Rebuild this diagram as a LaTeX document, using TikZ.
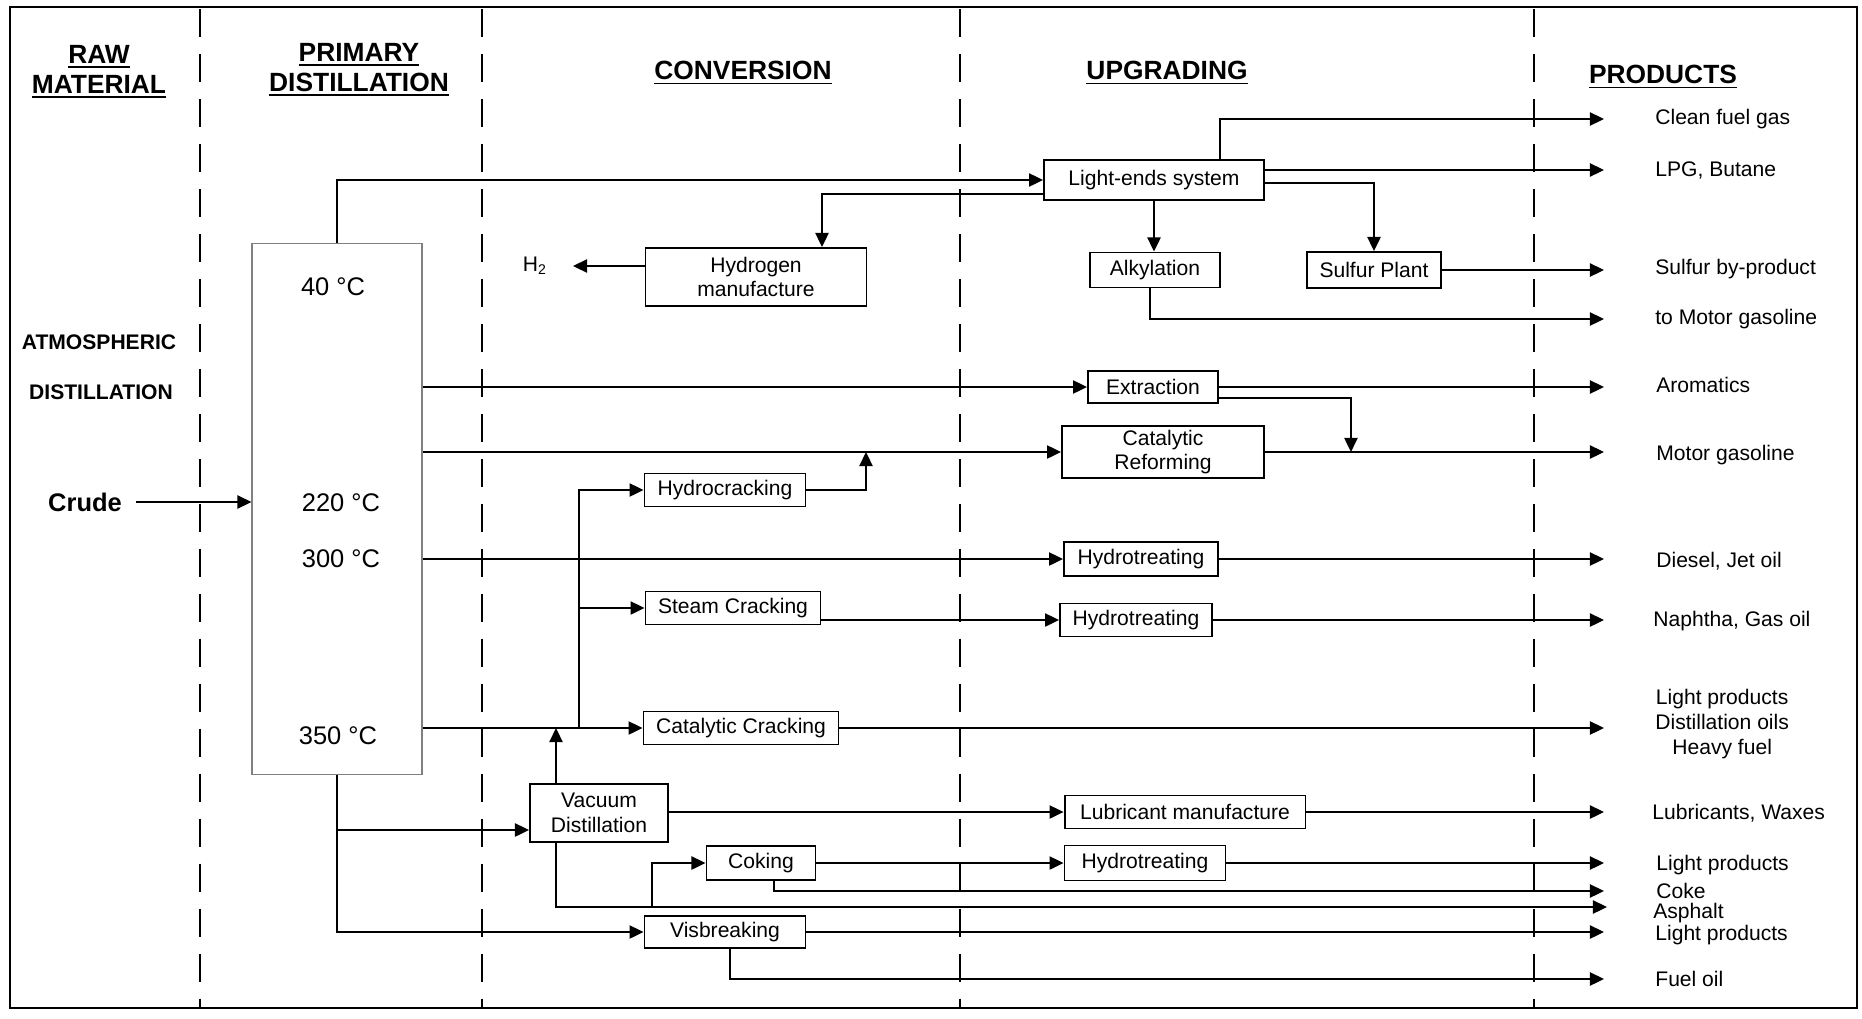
\documentclass[tikz,border=0pt]{standalone}
\usepackage{fontspec}
\setmainfont{Liberation Sans}
\usepackage{xcolor}
\usepackage{tikz}
\usetikzlibrary{arrows.meta}
\usetikzlibrary{calc}
\usetikzlibrary{positioning}
\tikzstyle{process} = [draw, line width=1.1pt, rectangle, minimum height=0.66cm, inner sep=0pt, align=center, font=\fontsize{12}{14}\selectfont]
\tikzstyle{arrowline} = [line width=1pt, -{Triangle[length=8pt,width=7.5pt]}]
\tikzstyle{product} = [anchor=west, inner xsep=0pt, align=center, font=\fontsize{12}{14}\selectfont]
\tikzstyle{heading} = [align=center, font=\fontsize{15}{17}\selectfont\bfseries]
\tikzstyle{temp} = [font=\fontsize{14.5}{17}\selectfont]
\tikzstyle{zone} = [line width=1pt, dash pattern=on 16pt off 9.6pt]
\newcommand{\hdline}[1]{\sbox0{#1}\rlap{\rule[-2.6pt]{\wd0}{1.1pt}}\usebox0}

\begin{document}
\begin{tikzpicture}[x=0.02cm, y=-0.02cm]
\useasboundingbox (0,0) rectangle (1862,1018);
\draw [line width=1pt] (10,7) rectangle (1857,1008);
\foreach \x in {200,482,960,1534}
	\draw [zone] (\x,9) -- (\x,1008);

\node [heading] (rawhead) at (99,72) {\hdline{RAW}\\\hdline{MATERIAL}};
\node [heading] (primhead) at (359,70) {\hdline{PRIMARY}\\\hdline{DISTILLATION}};
\node [heading] (convhead) at (743,73) {\hdline{CONVERSION}};
\node [heading] (upghead) at (1167,73) {\hdline{UPGRADING}};
\node [heading] (prodhead) at (1663,77) {\hdline{PRODUCTS}};
\node [font=\fontsize{12}{14}\selectfont\bfseries] (atmos) at (99,342) {ATMOSPHERIC};
\node [font=\fontsize{12}{14}\selectfont\bfseries] (atmosdist) at (101,392) {DISTILLATION};
\node [font=\fontsize{14.5}{17}\selectfont\bfseries] (crude) at (85,502) {Crude};

\node [draw=gray, line width=0.6pt, minimum width=3.4cm, minimum height=10.62cm, inner sep=0pt] (column) at (337,509) {};
\node [temp] (tforty) at (333,287) {40 °C};
\node [temp] (ttwotwenty) at (341,503) {220 °C};
\node [temp] (tthreehundred) at (341,559) {300 °C};
\node [temp] (tthreefifty) at (338,736) {350 °C};

\node [process, minimum width=4.4cm, minimum height=0.8cm] (lightends) at (1154,180) {Light-ends system};
\node [process, minimum width=4.42cm, minimum height=1.16cm] (hydrogen) at (756,277) {Hydrogen\\manufacture};
\node [process, minimum width=2.6cm, minimum height=0.7cm] (alkyl) at (1155,270) {Alkylation};
\node [process, minimum width=2.68cm, minimum height=0.72cm] (sulfur) at (1374,270) {Sulfur Plant};
\node [process, minimum width=2.6cm, minimum height=0.64cm] (extract) at (1153,387) {Extraction};
\node [process, minimum width=4.04cm, minimum height=1.04cm] (reform) at (1163,452) {Catalytic\\Reforming};
\node [process, minimum width=3.22cm] (hcrack) at (725,490) {Hydrocracking};
\node [process, minimum width=3.08cm, minimum height=0.68cm] (htreatA) at (1141,559) {Hydrotreating};
\node [process, minimum width=3.5cm] (scrack) at (733,608) {Steam Cracking};
\node [process, minimum width=3.04cm] (htreatB) at (1136,620) {Hydrotreating};
\node [process, minimum width=3.9cm] (ccrack) at (741,728) {Catalytic Cracking};
\node [process, minimum width=2.76cm, minimum height=1.16cm] (vacuum) at (599,813) {Vacuum\\Distillation};
\node [process, minimum width=4.82cm] (lube) at (1185,812) {Lubricant manufacture};
\node [process, minimum width=2.18cm, minimum height=0.68cm] (coking) at (761,863) {Coking};
\node [process, minimum width=3.22cm, minimum height=0.7cm] (htreatC) at (1145,863) {Hydrotreating};
\node [process, minimum width=3.22cm, minimum height=0.64cm] (visbreak) at (725,932) {Visbreaking};

\coordinate (htwotip) at (573,266);
\node [font=\fontsize{12}{14}\selectfont, left=0.4cm of htwotip] (htwo) {H\textsubscript{2}};

\node [product] (fuelgas) at (1655,119) {Clean fuel gas};
\node [product] (lpg) at (1655,170) {LPG, Butane};
\node [product] (sulfurprod) at (1655,269) {Sulfur by-product};
\node [product] (motorto) at (1655,319) {to Motor gasoline};
\node [product] (aromatics) at (1656,385) {Aromatics};
\node [product] (motor) at (1656,455) {Motor gasoline};
\node [product] (diesel) at (1656,561) {Diesel, Jet oil};
\node [product] (naphtha) at (1653,621) {Naphtha, Gas oil};
\node [product] (heavy) at (1655,724) {Light products\\Distillation oils\\Heavy fuel};
\node [product] (lubes) at (1652,813) {Lubricants, Waxes};
\node [product] (lightC) at (1656,865) {Light products};
\node [product] (coke) at (1656,891) {Coke};
\node [product] (asphalt) at (1653,913) {Asphalt};
\node [product] (lightV) at (1655,935) {Light products};
\node [product] (fueloil) at (1655,979) {Fuel oil};

\coordinate (tip) at (1604,0);
\coordinate (asphtip) at (1607,907);
\coordinate (trunk) at (579,0);
\coordinate (hcjoin) at (866,0);
\coordinate (vacleg) at (556,0);
\coordinate (cokeleg) at (652,0);

\draw [arrowline, shorten <=0.16cm] (crude) -- (column.west |- crude);
\draw [arrowline] (column.north) |- (lightends.west);
\draw [arrowline] ($(lightends.west)+(0,14)$) -| ($(hydrogen.north)+(66,0)$);
\draw [arrowline] ($(hydrogen.west)+(0,-11)$) -- (htwotip);
\draw [arrowline] ($(lightends.north)+(66,0)$) |- (tip |- fuelgas);
\draw [arrowline] ($(lightends.east)+(0,-10)$) -- (tip |- lpg);
\draw [arrowline] ($(lightends.east)+(0,3)$) -| (sulfur.north);
\draw [arrowline] (lightends.south) -- (lightends.south |- alkyl.north);
\draw [arrowline] (sulfur.east) -- (sulfur.east -| tip);
\draw [arrowline] ($(alkyl.south)+(-5,0)$) |- (tip |- motorto);

\draw [arrowline] (column.east |- extract.west) -- (extract.west);
\draw [arrowline] (extract.east) -- (extract.east -| tip);
\draw [arrowline] ($(extract.east)+(0,11)$) -| ($(reform.east)+(86,0)$);
\draw [arrowline] (column.east |- reform.west) -- (reform.west);
\draw [arrowline] (reform.east) -- (reform.east -| tip);
\draw [arrowline] (hcrack.east) -| (hcjoin |- reform.west);
\draw [arrowline] (column.east |- htreatA.west) -- (htreatA.west);
\draw [arrowline] (htreatA.east) -- (htreatA.east -| tip);
\draw [arrowline] (scrack.east |- htreatB.west) -- (htreatB.west);
\draw [arrowline] (htreatB.east) -- (htreatB.east -| tip);

\draw [arrowline] (column.east |- ccrack.west) -- (ccrack.west);
\draw [arrowline] (trunk |- ccrack.west) |- (hcrack.west);
\draw [arrowline] (trunk |- scrack.west) -- (scrack.west);
\draw [arrowline] (ccrack.east) -- (ccrack.east -| tip);
\draw [arrowline] (vacleg |- vacuum.north) -- (vacleg |- ccrack.west);
\draw [arrowline] (column.south) |- ($(vacuum.west)+(0,17)$);
\draw [arrowline] (column.south) |- (visbreak.west);
\draw [arrowline] (vacuum.east |- lube.west) -- (lube.west);
\draw [arrowline] (lube.east) -- (lube.east -| tip);
\draw [arrowline] (vacleg |- vacuum.south) |- (asphtip);
\draw [arrowline] (cokeleg |- asphtip) |- (coking.west);
\draw [arrowline] (coking.east) -- (htreatC.west);
\draw [arrowline] (htreatC.east) -- (htreatC.east -| tip);
\draw [arrowline] ($(coking.south)+(13,0)$) |- (tip |- coke);
\draw [arrowline] (visbreak.east) -- (visbreak.east -| tip);
\draw [arrowline] ($(visbreak.south)+(5,0)$) |- (tip |- fueloil);
\end{tikzpicture}
\end{document}
